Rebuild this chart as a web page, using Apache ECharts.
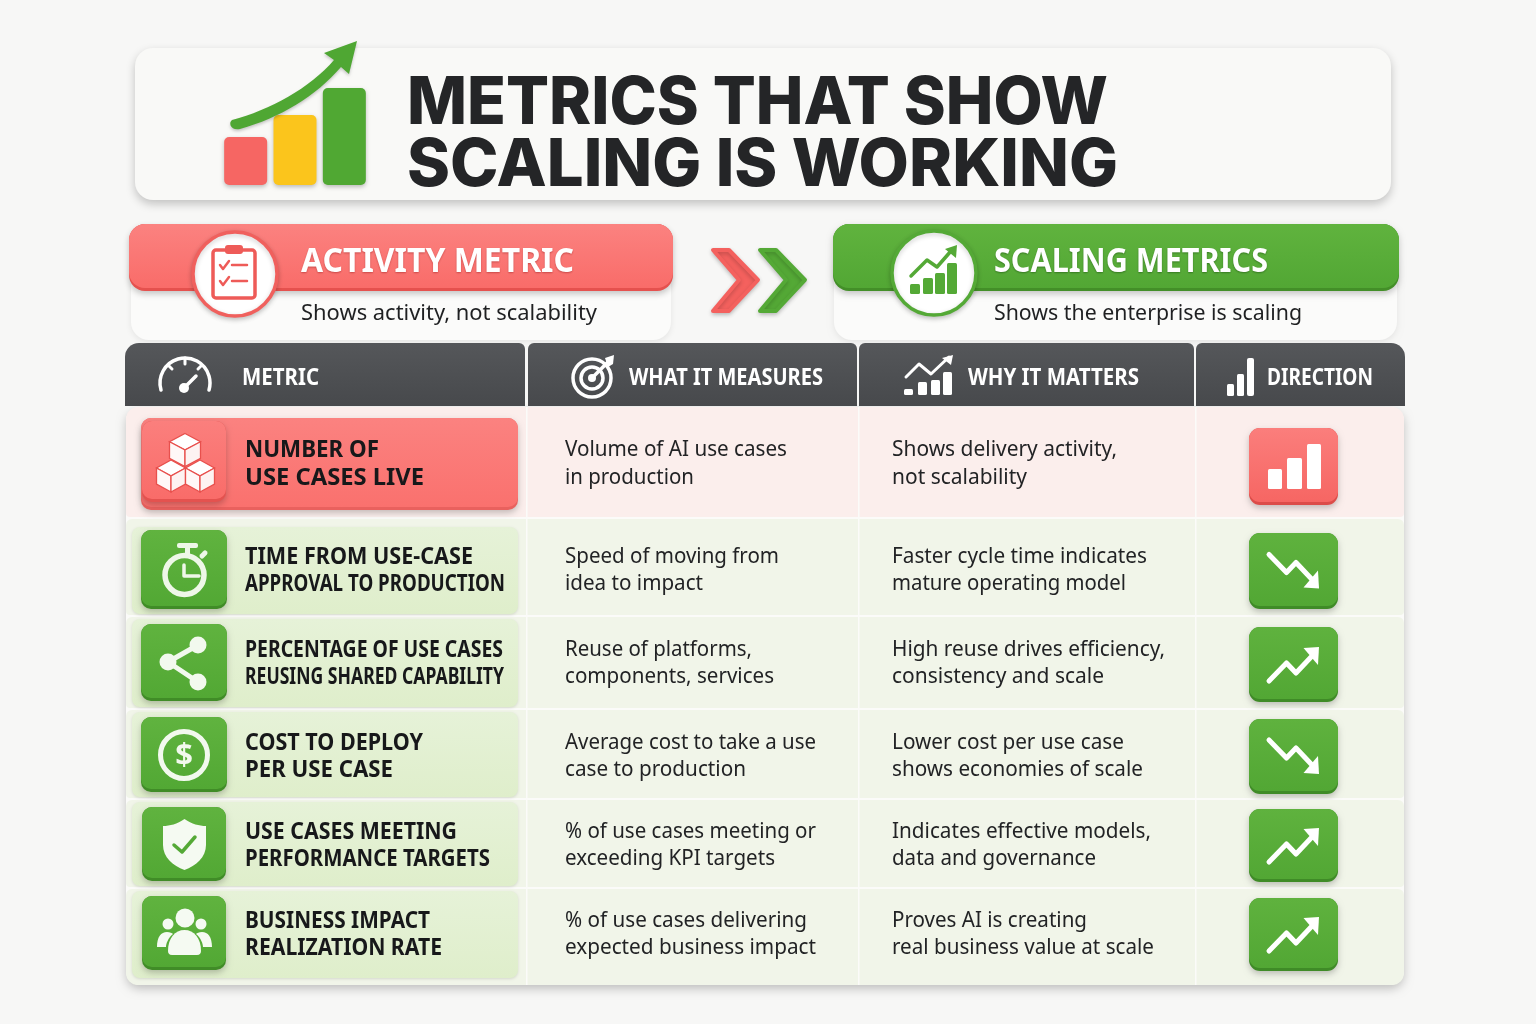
<!DOCTYPE html>
<html>
<head>
<meta charset="utf-8">
<title>Metrics that show scaling is working</title>
<style>
  html, body { margin: 0; padding: 0; background: #f7f7f6; }
  #chart { width: 1536px; height: 1024px; }
</style>
<script src="https://cdn.jsdelivr.net/npm/echarts@6/dist/echarts.min.js"></script>
</head>
<body>
<div id="chart"></div>
<script>
// chart content
const titleLines = ['METRICS THAT SHOW', 'SCALING IS WORKING']
const logoCategories = ['Low', 'Mid', 'High']
const logoValues = [48, 70, 97]
const activityTitle = 'ACTIVITY METRIC'
const activityNote = 'Shows activity, not scalability'
const scalingTitle = 'SCALING METRICS'
const scalingNote = 'Shows the enterprise is scaling'
const headers = ['METRIC', 'WHAT IT MEASURES', 'WHY IT MATTERS', 'DIRECTION']
const metrics = [
  ['NUMBER OF', 'USE CASES LIVE'],
  ['TIME FROM USE-CASE', 'APPROVAL TO PRODUCTION'],
  ['PERCENTAGE OF USE CASES', 'REUSING SHARED CAPABILITY'],
  ['COST TO DEPLOY', 'PER USE CASE'],
  ['USE CASES MEETING', 'PERFORMANCE TARGETS'],
  ['BUSINESS IMPACT', 'REALIZATION RATE']
]
const measures = [
  ['Volume of AI use cases', 'in production'],
  ['Speed of moving from', 'idea to impact'],
  ['Reuse of platforms,', 'components, services'],
  ['Average cost to take a use', 'case to production'],
  ['% of use cases meeting or', 'exceeding KPI targets'],
  ['% of use cases delivering', 'expected business impact']
]
const reasons = [
  ['Shows delivery activity,', 'not scalability'],
  ['Faster cycle time indicates', 'mature operating model'],
  ['High reuse drives efficiency,', 'consistency and scale'],
  ['Lower cost per use case', 'shows economies of scale'],
  ['Indicates effective models,', 'data and governance'],
  ['Proves AI is creating', 'real business value at scale']
]
const directions = ['flat', 'down', 'up', 'down', 'up', 'up']

// layout
const GREEN = '#54a936', DARK = '#242527'
const rowTop = [407, 519, 617, 710, 800, 889]
const rowBottom = [517, 615, 708, 798, 887, 985]
const cardTop = [418, 527, 619, 712, 802, 891]
const cardBottom = [510, 614, 707, 797, 886, 978]
const iconTop = [421, 530, 624, 717, 807, 896]
const iconBottom = [502, 609, 701, 792, 881, 970]
const dirTop = [428, 533, 627, 719, 809, 898]
const dirBottom = [505, 609, 702, 794, 882, 971]
const lineY = [[449, 477], [556, 583], [649, 676], [742, 769], [831, 858], [920, 947]]
const metricWidths = [[134, 179], [228, 260], [258, 259], [178, 148], [212, 245], [185, 197]]
const measureWidths = [[222, 129], [214, 138], [187, 209], [251, 181], [251, 210], [242, 251]]
const reasonWidths = [[225, 135], [255, 234], [273, 212], [232, 251], [259, 204], [195, 262]]

const g = []
const ruler = document.createElement('canvas').getContext('2d')
const FONT_BODY = '400 22px "Noto Sans"'
const FONT_LABEL = '700 24px "Noto Sans"'
const FONT_HEAD = '700 24px "Noto Sans"'
const FONT_BANNER = '700 34px "Noto Sans"'
const FONT_TITLE = '800 66px Inter'

function grad(a, b) {
  return new echarts.graphic.LinearGradient(0, 0, 0, 1, [{ offset: 0, color: a }, { offset: 1, color: b }])
}
function box(x, y, w, h, r, fill, extra) {
  g.push({ type: 'rect', silent: true, shape: { x, y, width: w, height: h, r }, style: Object.assign({ fill }, extra) })
}
function solid3d(x, y, w, h, r, top, bottom, edge) {
  box(x, y, w, h, r, edge, { shadowBlur: 6, shadowColor: 'rgba(0,0,0,0.22)', shadowOffsetY: 3 })
  box(x, y, w, h - 3, r, grad(top, bottom))
}
// text squeezed to the width measured on the picture
function label(text, x, y, font, fill, width, extra) {
  ruler.font = font
  const scaleX = width ? width / ruler.measureText(text).width : 1
  g.push({
    type: 'text', silent: true, x, y, scaleX, z: 4,
    style: Object.assign({ text, fill, font, textAlign: 'left', textVerticalAlign: 'middle', align: 'left', verticalAlign: 'middle' }, extra)
  })
}
function stroke(points, color, lineWidth, z) {
  g.push({ type: 'polyline', silent: true, z: z || 4, shape: { points }, style: { fill: 'none', stroke: color, lineWidth, lineCap: 'round', lineJoin: 'round' } })
}
function poly(points, fill, extra) {
  g.push({ type: 'polygon', silent: true, z: 4, shape: { points }, style: Object.assign({ fill }, extra) })
}
function dot(cx, cy, r, fill, extra) {
  g.push({ type: 'circle', silent: true, z: 4, shape: { cx, cy, r }, style: Object.assign({ fill }, extra) })
}
// the graphic component has no free path type, so each outline becomes a registered shape
let pathCount = 0
function path(pathData, fill, extra, z) {
  const name = 'iconPath' + pathCount++
  echarts.graphic.registerShape(name, echarts.graphic.extendPath(pathData, {}))
  g.push({ type: name, silent: true, z: z || 4, style: Object.assign({ fill }, extra) })
}
function bar(x, y, w, h, fill, r) {
  g.push({ type: 'rect', silent: true, z: 4, shape: { x, y, width: w, height: h, r: r == null ? 1.5 : r }, style: { fill } })
}

// title panel
box(135, 48, 1256, 152, 18, '#f9f9f7', { shadowBlur: 10, shadowColor: 'rgba(0,0,0,0.22)', shadowOffsetY: 4 })
path('M232 120 C 270 110 310 88 334 60 L 324 53 L 357 41 L 349 74 L 341 67 C 316 96 280 118 240 129 C 231 131 228 123 232 120 Z', '#4fa733', { shadowBlur: 3, shadowColor: 'rgba(0,0,0,0.2)', shadowOffsetY: 2 }, 5)
titleLines.forEach((t, i) => label(t, 407, [104, 166][i], FONT_TITLE, DARK, [701, 711][i]))

// banners
box(131, 250, 540, 90, 18, '#fbfbfa', { shadowBlur: 6, shadowColor: 'rgba(0,0,0,0.08)', shadowOffsetY: 2 })
solid3d(129, 224, 544, 67, 16, '#fb8280', '#f96c69', '#e5514e')
dot(235, 274, 42, '#ffffff', { stroke: '#f0605d', lineWidth: 3.5, shadowBlur: 5, shadowColor: 'rgba(0,0,0,0.2)', shadowOffsetY: 2 })
label(activityTitle, 301, 262, FONT_BANNER, '#ffffff', 273, { textShadowBlur: 2, textShadowColor: 'rgba(150,30,30,0.5)', textShadowOffsetY: 1 })
label(activityNote, 301, 314, FONT_BODY, '#1f2022', 296)
// clipboard icon
g.push({ type: 'rect', silent: true, z: 4, shape: { x: 213, y: 250, width: 42, height: 48, r: 3 }, style: { fill: '#fff', stroke: '#ee5b58', lineWidth: 3.5 } })
bar(225, 245, 18, 9, '#ee5b58', 3)
stroke([[220, 265], [223, 269], [229, 261]], '#ee5b58', 2.5)
stroke([[232, 265], [247, 265]], '#ee5b58', 2.5)
stroke([[220, 281], [223, 285], [229, 277]], '#ee5b58', 2.5)
stroke([[232, 281], [247, 281]], '#ee5b58', 2.5)

box(834, 250, 563, 90, 18, '#fbfbfa', { shadowBlur: 6, shadowColor: 'rgba(0,0,0,0.08)', shadowOffsetY: 2 })
solid3d(833, 224, 566, 67, 16, '#60b33e', '#52a734', '#438f28')
dot(934, 273, 42, '#ffffff', { stroke: GREEN, lineWidth: 3.5, shadowBlur: 5, shadowColor: 'rgba(0,0,0,0.2)', shadowOffsetY: 2 })
label(scalingTitle, 994, 262, FONT_BANNER, '#ffffff', 274, { textShadowBlur: 2, textShadowColor: 'rgba(20,70,10,0.5)', textShadowOffsetY: 1 })
label(scalingNote, 994, 314, FONT_BODY, '#1f2022', 308)
bar(910, 284, 10, 10, GREEN)
bar(923, 278, 10, 16, GREEN)
bar(935, 273, 10, 21, GREEN)
bar(947, 263, 10, 31, GREEN)
stroke([[911, 276], [927, 260], [937, 267], [951, 251]], GREEN, 3.5)
poly([[945, 249], [957, 245], [956, 258]], GREEN)

// chevrons
function chevron(x, fill) {
  poly([[x + 2, 250], [x + 18, 250], [x + 47, 280], [x + 18, 311], [x + 2, 311], [x + 28, 280]], fill, {
    stroke: fill, lineWidth: 4, lineJoin: 'round', shadowBlur: 4, shadowColor: 'rgba(0,0,0,0.2)', shadowOffsetY: 2
  })
}
chevron(711, '#f4615e')
chevron(758, GREEN)

// table
box(126, 407, 1278, 578, 14, '#fbfbf9', { shadowBlur: 10, shadowColor: 'rgba(0,0,0,0.22)', shadowOffsetY: 4 })
const headX = [125, 528, 859, 1196]
const headW = [400, 329, 335, 209]
const headR = [[14, 6, 0, 0], [6, 6, 0, 0], [6, 6, 0, 0], [6, 14, 0, 0]]
headers.forEach((t, i) => box(headX[i], 343, headW[i], 63, headR[i], grad('#55575a', '#47494c')))
const headTextX = [242, 629, 968, 1267]
const headTextW = [77, 194, 171, 106]
headers.forEach((t, i) => label(t, headTextX[i], 378, FONT_HEAD, '#ffffff', headTextW[i]))

// header icons
path('M161 390 A25 25 0 1 1 209 390', 'none', { stroke: '#fff', lineWidth: 3.5, lineCap: 'round' })
stroke([[185, 358], [185, 364]], '#fff', 3)
stroke([[168, 365], [172, 369]], '#fff', 3)
stroke([[202, 365], [198, 369]], '#fff', 3)
dot(184, 388, 5, '#fff')
stroke([[184, 388], [196, 376]], '#fff', 3.5)
dot(592, 378, 19, 'none', { stroke: '#fff', lineWidth: 3.5 })
dot(592, 378, 11, 'none', { stroke: '#fff', lineWidth: 3.5 })
dot(592, 378, 4, '#fff')
stroke([[592, 378], [609, 361]], '#fff', 3.5)
poly([[605, 358], [614, 355], [613, 364], [608, 367]], '#fff')
bar(904, 389, 9, 6, '#fff')
bar(918, 382, 9, 13, '#fff')
bar(931, 380, 9, 15, '#fff')
bar(943, 372, 9, 23, '#fff')
stroke([[906, 377], [919, 364], [931, 374], [949, 357]], '#fff', 3)
poly([[942, 358], [953, 355], [951, 365]], '#fff')
bar(1227, 384, 7, 12, '#fff')
bar(1237, 374, 7, 22, '#fff')
bar(1247, 358, 7, 38, '#fff', 2)

// rows
metrics.forEach((lines, i) => {
  const red = i === 0
  const top = rowTop[i], h = rowBottom[i] - top
  box(126, top, 1278, h, [i === 0 ? 12 : 6, i === 0 ? 12 : 6, i === 5 ? 12 : 4, i === 5 ? 12 : 4], red ? '#fbeeec' : '#f1f5e9')
  ;[526, 858, 1195].forEach(x => box(x, top, 1.5, h, 0, '#fbfbf9'))
  // metric card
  const ct = cardTop[i], ch = cardBottom[i] - ct
  if (red) solid3d(141, ct, 377, ch, 10, '#fb8280', '#fa716e', '#e9615e')
  else box(132, ct, 386, ch, 8, grad('#e6f2d8', '#dfeecb'), { shadowBlur: 3, shadowColor: 'rgba(0,0,0,0.12)', shadowOffsetY: 1 })
  // metric icon tile
  const it = iconTop[i], ih = iconBottom[i] - it
  const ix = i > 3 || i === 0 ? 142 : 141, iw = i > 3 || i === 0 ? 84 : 86
  if (red) solid3d(ix, it, iw, ih, 10, '#fb7f7d', '#f96c69', '#e4524f')
  else solid3d(ix, it, iw, ih, 10, '#60b33f', '#52a834', '#408c27')
  label(lines[0], 245, lineY[i][0] + 1.5, FONT_LABEL, '#17181a', metricWidths[i][0])
  label(lines[1], 245, lineY[i][1] + 1.5, FONT_LABEL, '#17181a', metricWidths[i][1])
  measures[i].forEach((t, k) => label(t, 565, lineY[i][k] + 1, FONT_BODY, '#222325', measureWidths[i][k]))
  reasons[i].forEach((t, k) => label(t, 892, lineY[i][k] + 1, FONT_BODY, '#222325', reasonWidths[i][k]))
  // direction tile
  const dt = dirTop[i], dh = dirBottom[i] - dt, cy = dt + dh / 2, cx = 1293.5
  if (red) solid3d(1249, dt, 89, dh, 11, '#fb7e7c', '#f66663', '#dc4c49')
  else solid3d(1249, dt, 89, dh, 11, '#5fb23e', '#52a734', '#3f8b27')
  if (directions[i] === 'flat') {
    bar(1268, 469, 14, 20, '#fff')
    bar(1287, 458, 15, 31, '#fff')
    bar(1307, 444, 14, 45, '#fff')
  } else {
    const s = directions[i] === 'up' ? 1 : -1
    stroke([[cx - 24.5, cy + 16.5 * s], [cx - 7, cy - 1.5 * s], [cx + 2.5, cy + 8.5 * s], [cx + 19, cy - 9 * s]], '#fff', 5)
    poly([[cx + 10, cy - 16.5 * s], [cx + 25.5, cy - 17.5 * s], [cx + 24.5, cy + 0.5 * s]], '#fff')
  }
})

// metric icons
function cube(cx, cy, w, h) {
  const line = { stroke: '#e8504d', lineWidth: 1.3 }
  const hw = w / 2, q = h / 4
  poly([[cx, cy - 2 * q], [cx + hw, cy - q], [cx, cy], [cx - hw, cy - q]], '#fff', line)
  poly([[cx - hw, cy - q], [cx, cy], [cx, cy + 2 * q], [cx - hw, cy + q]], '#fff8f7', line)
  poly([[cx + hw, cy - q], [cx, cy], [cx, cy + 2 * q], [cx + hw, cy + q]], '#fdf3f2', line)
}
cube(185, 450, 31, 33)
cube(171, 476, 29, 32)
cube(200, 476, 29, 32)

dot(184.5, 575, 19.5, 'none', { stroke: '#eef7e8', lineWidth: 5.5 })
bar(177, 543, 21, 5, '#eef7e8', 2)
bar(185, 546, 5, 8, '#eef7e8', 0)
stroke([[202, 556], [205, 553]], '#eef7e8', 5)
stroke([[184, 565], [184, 576], [199, 576]], '#eef7e8', 3.5)

stroke([[198, 645], [168, 662], [198, 682]], '#f2f9ee', 5)
dot(198, 645, 8.5, '#f2f9ee')
dot(168, 662, 8.5, '#f2f9ee')
dot(198, 682, 8.5, '#f2f9ee')

dot(184, 755, 23.5, 'none', { stroke: '#f2f9ee', lineWidth: 5 })
g.push({ type: 'text', silent: true, z: 4, x: 184, y: 756, style: { text: '$', fill: '#f2f9ee', font: '700 31px "Noto Sans"', textAlign: 'center', textVerticalAlign: 'middle', align: 'center', verticalAlign: 'middle' } })

path('M184.5 819 C192 824 199 826 206 826 L206 845 C206 857 196 866 184.5 870 C173 866 163 857 163 845 L163 826 C170 826 177 824 184.5 819 Z', '#f5faf2')
stroke([[174, 845], [182, 852], [195, 837]], GREEN, 3.5)

dot(185, 918, 9.5, '#f5faf2')
dot(168, 924, 5.5, '#f5faf2')
dot(201, 924, 5.5, '#f5faf2')
path('M157 947 C157 937 161 932 167 932 C170 932 172 933 173 934 C168 938 166 944 166 947 Z', '#f5faf2')
path('M212 947 C212 937 208 932 202 932 C199 932 197 933 196 934 C201 938 203 944 203 947 Z', '#f5faf2')
path('M168 951 C168 938 175 930 184.5 930 C194 930 201 938 201 951 C201 953 200 955 197 955 L172 955 C169 955 168 953 168 951 Z', '#f5faf2')

const logoColors = ['#f66663', '#fbc51c', '#50a833']
const chart = echarts.init(document.getElementById('chart'), null, { renderer: 'canvas' })
chart.setOption({
  backgroundColor: '#f7f7f6',
  animation: false,
  grid: { left: 221, top: 85, width: 148, height: 100 },
  xAxis: { type: 'category', data: logoCategories, show: false },
  yAxis: { type: 'value', min: 0, max: 100, show: false },
  series: [{
    type: 'bar',
    barWidth: 43,
    silent: true,
    z: 3,
    data: logoValues.map((value, i) => ({
      value,
      itemStyle: { color: logoColors[i], borderRadius: 5, shadowBlur: 4, shadowColor: 'rgba(0,0,0,0.25)', shadowOffsetY: 2 }
    }))
  }],
  graphic: { elements: g }
})
</script>
</body>
</html>
